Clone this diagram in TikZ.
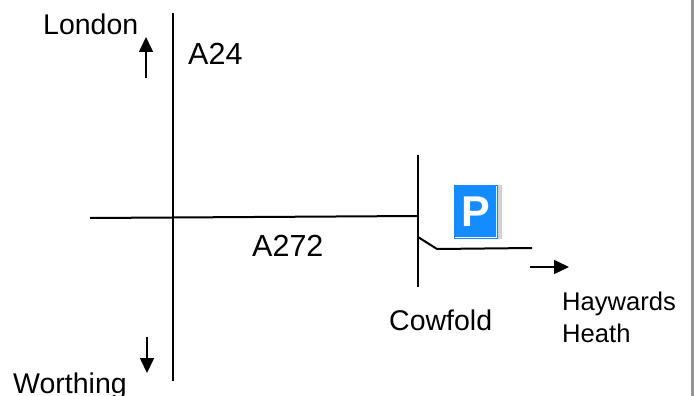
\documentclass[tikz,border=0pt]{standalone}
\usepackage{fontspec}
\setmainfont{Liberation Sans}
\usepackage{tikz}
\usetikzlibrary{arrows.meta}
\definecolor{parkblue}{RGB}{20,140,255}

\begin{document}
\begin{tikzpicture}[x=1pt, y=-1pt,
  road/.style={line width=2pt},
  way/.style={-{Triangle[length=15pt, width=14pt]}, line width=1.6pt},
  place/.style={anchor=base west, inner sep=0pt, font=\fontsize{28.5}{32}\selectfont},
  roadname/.style={anchor=base west, inner sep=0pt, font=\fontsize{30.5}{34}\selectfont},
  small/.style={anchor=base west, inner sep=0pt, font=\fontsize{25.6}{32}\selectfont}
]
\useasboundingbox (0,0) rectangle (694,396);
\fill[gray!85] (691,0) rectangle (694,396);

% Roads
\coordinate (a24n) at (173,13);
\coordinate (a24s) at (173,381);
\coordinate (a272w) at (90,218);
\coordinate (a272e) at (418,216);
\coordinate (cown) at (418,155);
\coordinate (cows) at (418,287);
\coordinate (fork) at (418,237);
\coordinate (bend) at (437,249);
\coordinate (slip) at (532,248);
\draw[road] (a24n) -- (a24s);
\draw[road] (a272w) -- (a272e);
\draw[road] (cown) -- (cows);
\draw[road] (fork) -- (bend) -- (slip);

% Road names and places
\node[place] (london) at (43,35) {London};
\node[roadname] (a24) at (188,65) {A24};
\node[roadname] (a272) at (252,256) {A272};
\node[place] (cowfold) at (389,330) {Cowfold};
\node[small] (haywards) at (562,310) {Haywards};
\node[small] (heath) at (562,342) {Heath};
\node[place] (worthing) at (13,393) {Worthing};

% Direction arrows
\coordinate (upfrom) at (146,78);
\coordinate (upto) at (146,37);
\coordinate (downfrom) at (147,337);
\coordinate (downto) at (147,373);
\coordinate (eastfrom) at (530,267);
\coordinate (eastto) at (569,267);
\draw[way] (upfrom) -- (upto);
\draw[way] (downfrom) -- (downto);
\draw[way] (eastfrom) -- (eastto);

% Parking sign
\fill[gray!35] (458,185) rectangle (502,239);
\node[fill=parkblue, text=white, inner sep=0pt, minimum width=44pt,
  minimum height=54pt, font=\fontsize{43}{43}\selectfont\bfseries] (park) at (476,212) {P};
\draw[white, line width=0.8pt] ([shift={(-1.5,1.5)}]park.north east)
  -- ([shift={(-1.5,-1.5)}]park.south east) -- ([shift={(1.5,-1.5)}]park.south west);

\end{tikzpicture}
\end{document}
